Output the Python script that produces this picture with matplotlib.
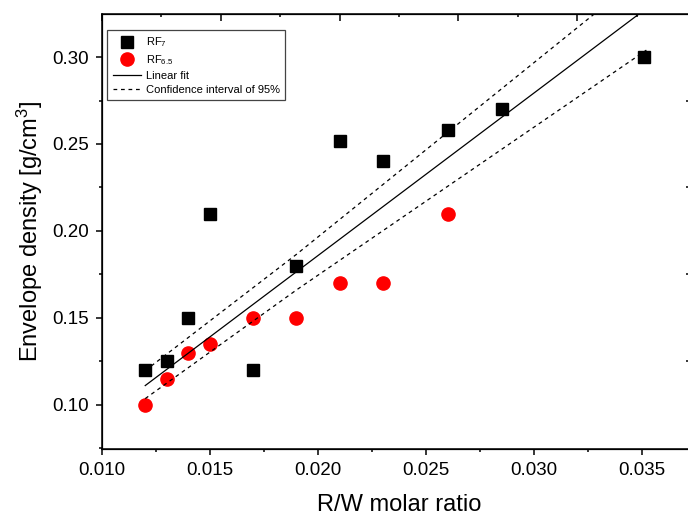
import matplotlib
matplotlib.use("Agg")
import matplotlib.pyplot as plt
from matplotlib.ticker import MultipleLocator, FixedLocator, NullLocator

plt.rcParams['font.family'] = ['Liberation Sans', 'DejaVu Sans']
plt.rcParams['mathtext.default'] = 'regular'

# RF7 samples (black squares)
rf7_x = [0.012, 0.013, 0.014, 0.015, 0.017, 0.019, 0.021, 0.023, 0.026, 0.0285, 0.0351]
rf7_y = [0.120, 0.125, 0.150, 0.210, 0.120, 0.180, 0.252, 0.240, 0.258, 0.270, 0.300]

# RF6.5 samples (red circles)
rf65_x = [0.012, 0.013, 0.014, 0.015, 0.017, 0.019, 0.021, 0.023, 0.026]
rf65_y = [0.100, 0.115, 0.130, 0.135, 0.150, 0.150, 0.170, 0.170, 0.210]

# linear fit and 95% confidence band
fit_x = [0.012, 0.0352]
fit_y = [0.1110, 0.328]
band_x = [0.012, 0.019, 0.0352]
band_upper = [0.1196, 0.1865, 0.349]
band_lower = [0.1035, 0.166, 0.304]

fig = plt.figure(figsize=(6.88, 5.18), dpi=100)
ax = fig.add_axes([0.1483, 0.1332, 0.8634, 0.8398])

ax.plot(rf7_x, rf7_y, ls='none', marker='s', ms=8.5, color='black', label='RF$_7$')
ax.plot(rf65_x, rf65_y, ls='none', marker='o', ms=9.5, color='red', label='RF$_{6.5}$')
ax.plot(fit_x, fit_y, color='black', lw=0.9, label='Linear fit')
ax.plot(band_x, band_upper, color='black', lw=0.9, ls=(0, (3, 3)),
        label='Confidence interval of 95%')
ax.plot(band_x, band_lower, color='black', lw=0.9, ls=(0, (3, 3)))

ax.set_xlim(0.010, 0.0375)
ax.set_ylim(0.0745, 0.3248)
ax.xaxis.set_major_locator(FixedLocator([0.010, 0.015, 0.020, 0.025, 0.030, 0.035]))
ax.xaxis.set_minor_locator(MultipleLocator(0.0025))
ax.yaxis.set_major_locator(FixedLocator([0.10, 0.15, 0.20, 0.25, 0.30]))
ax.yaxis.set_minor_locator(MultipleLocator(0.025))
ax.set_xticklabels(['0.010', '0.015', '0.020', '0.025', '0.030', '0.035'])
ax.set_yticklabels(['0.10', '0.15', '0.20', '0.25', '0.30'])
ax.tick_params(which='major', direction='out', length=4.5, width=1.1, labelsize=13.5, pad=5)
ax.tick_params(which='minor', direction='out', length=2.5, width=1.1)
ax.set_xlabel('R/W molar ratio', fontsize=17, labelpad=11)
ax.set_ylabel('Envelope density [g/cm$^3$]', fontsize=17, labelpad=5)
for s in ax.spines.values():
    s.set_linewidth(1.1)

# top axis ticks (inward, own scale, no labels)
top = ax.twiny()
top.set_xlim(0, 5)
top.xaxis.set_major_locator(MultipleLocator(1))
top.xaxis.set_minor_locator(MultipleLocator(0.5))
top.tick_params(which='major', direction='in', length=5, width=1.1, labeltop=False)
top.tick_params(which='minor', direction='in', length=2.5, width=1.1)

# right axis ticks
right = ax.twinx()
right.set_ylim(ax.get_ylim())
right.yaxis.set_major_locator(FixedLocator([0.125, 0.175, 0.225, 0.275]))
right.yaxis.set_minor_locator(NullLocator())
right.tick_params(which='major', direction='in', length=7, width=1.1, labelright=False)

leg = ax.legend(loc='upper left', bbox_to_anchor=(0.0084, 0.963), borderaxespad=0,
                fontsize=8, fancybox=False, edgecolor='#444444', framealpha=1,
                handlelength=2.6, handletextpad=0.4, labelspacing=0.35,
                borderpad=0.5)
leg.get_frame().set_linewidth(0.9)

fig.savefig('out.png', dpi=100)
